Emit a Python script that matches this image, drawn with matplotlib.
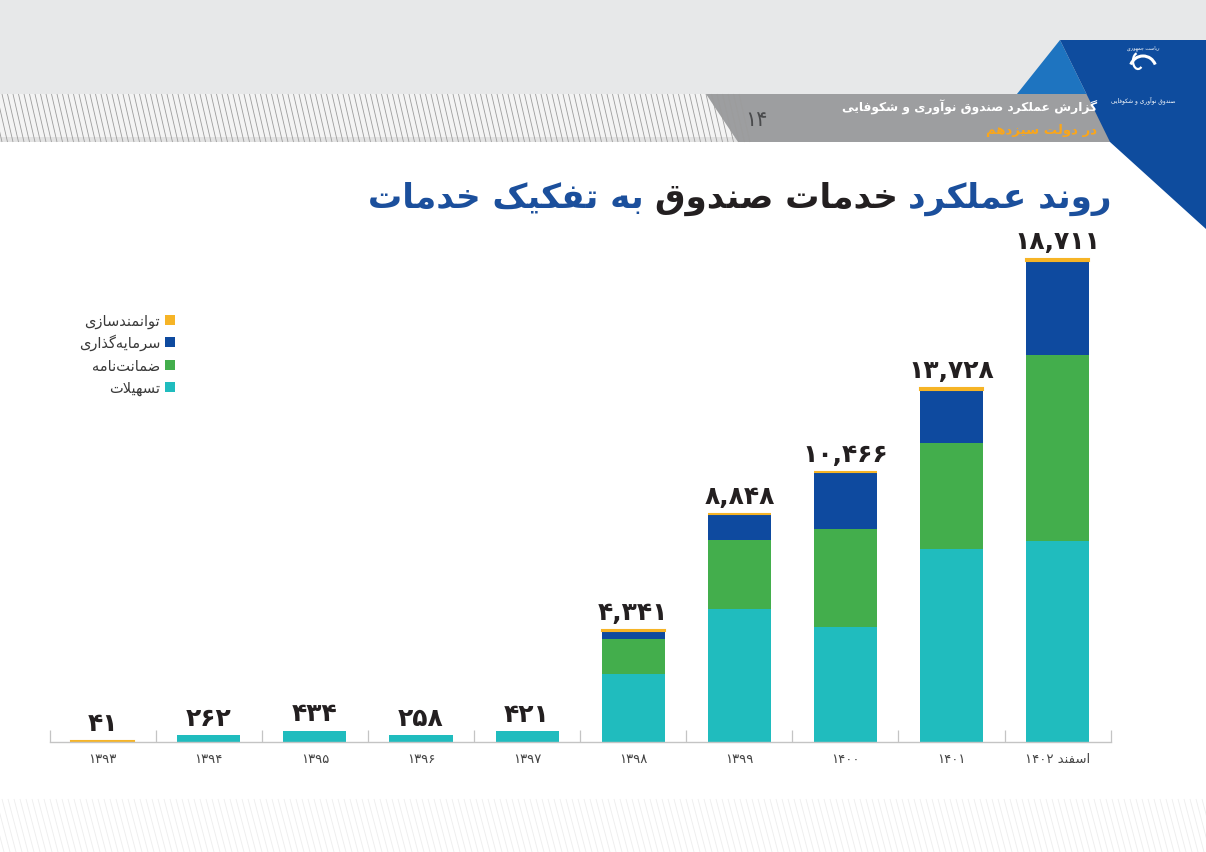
import re
import numpy as np
import matplotlib
matplotlib.use("Agg")
import matplotlib.pyplot as plt
from matplotlib.patches import Polygon, Rectangle, Arc
from matplotlib.collections import LineCollection
from matplotlib import font_manager
from matplotlib.ft2font import FT2Font

# ---------------- data ----------------
categories = ["۱۳۹۳", "۱۳۹۴", "۱۳۹۵", "۱۳۹۶", "۱۳۹۷",
              "۱۳۹۸", "۱۳۹۹", "۱۴۰۰", "۱۴۰۱", "اسفند ۱۴۰۲"]
tashilat   = [0, 262, 434, 258, 421, 2628, 5158, 4463, 7496, 7790]   # تسهیلات
zemanat    = [0, 0, 0, 0, 0, 1347, 2660, 3798, 4106, 7200]           # ضمانت‌نامه
sarmaye    = [0, 0, 0, 0, 0, 340, 1000, 2180, 2050, 3640]            # سرمایه‌گذاری
tavanmand  = [41, 0, 0, 0, 0, 26, 30, 25, 76, 81]                    # توانمندسازی
series_names = ["تسهیلات", "ضمانت‌نامه", "سرمایه‌گذاری", "توانمندسازی"]
series_colors = ["#20BCBE", "#43AE4C", "#0E4A9F", "#F6B426"]
title_parts = [("روند عملکرد", "#1B4F9C"), ("خدمات صندوق", "#231F20"),
               ("به تفکیک خدمات", "#1B4F9C")]
header_title = "گزارش عملکرد صندوق نوآوری و شکوفایی"
header_sub = "در دولت سیزدهم"
page_no = "۱۴"

# ---------------- minimal Persian shaping ----------------
FORMS = {
    'ا': (0xFE8D, 0xFE8E, None, None), 'آ': (0xFE81, 0xFE82, None, None),
    'ب': (0xFE8F, 0xFE90, 0xFE91, 0xFE92), 'پ': (0xFB56, 0xFB57, 0xFB58, 0xFB59),
    'ت': (0xFE95, 0xFE96, 0xFE97, 0xFE98), 'ث': (0xFE99, 0xFE9A, 0xFE9B, 0xFE9C),
    'ج': (0xFE9D, 0xFE9E, 0xFE9F, 0xFEA0), 'چ': (0xFB7A, 0xFB7B, 0xFB7C, 0xFB7D),
    'ح': (0xFEA1, 0xFEA2, 0xFEA3, 0xFEA4), 'خ': (0xFEA5, 0xFEA6, 0xFEA7, 0xFEA8),
    'د': (0xFEA9, 0xFEAA, None, None), 'ذ': (0xFEAB, 0xFEAC, None, None),
    'ر': (0xFEAD, 0xFEAE, None, None), 'ز': (0xFEAF, 0xFEB0, None, None),
    'ژ': (0xFB8A, 0xFB8B, None, None),
    'س': (0xFEB1, 0xFEB2, 0xFEB3, 0xFEB4), 'ش': (0xFEB5, 0xFEB6, 0xFEB7, 0xFEB8),
    'ص': (0xFEB9, 0xFEBA, 0xFEBB, 0xFEBC), 'ض': (0xFEBD, 0xFEBE, 0xFEBF, 0xFEC0),
    'ط': (0xFEC1, 0xFEC2, 0xFEC3, 0xFEC4), 'ظ': (0xFEC5, 0xFEC6, 0xFEC7, 0xFEC8),
    'ع': (0xFEC9, 0xFECA, 0xFECB, 0xFECC), 'غ': (0xFECD, 0xFECE, 0xFECF, 0xFED0),
    'ف': (0xFED1, 0xFED2, 0xFED3, 0xFED4), 'ق': (0xFED5, 0xFED6, 0xFED7, 0xFED8),
    'ک': (0xFB8E, 0xFB8F, 0xFB90, 0xFB91), 'گ': (0xFB92, 0xFB93, 0xFB94, 0xFB95),
    'ل': (0xFEDD, 0xFEDE, 0xFEDF, 0xFEE0), 'م': (0xFEE1, 0xFEE2, 0xFEE3, 0xFEE4),
    'ن': (0xFEE5, 0xFEE6, 0xFEE7, 0xFEE8), 'ه': (0xFEE9, 0xFEEA, 0xFEEB, 0xFEEC),
    'و': (0xFEED, 0xFEEE, None, None), 'ی': (0xFBFC, 0xFBFD, 0xFBFE, 0xFBFF),
}
FALLBACK = {
    'ک': (0xFED9, 0xFEDA, 0xFEDB, 0xFEDC), 'گ': (0xFED9, 0xFEDA, 0xFEDB, 0xFEDC),
    'ی': (0xFEEF, 0xFEF0, 0xFEF3, 0xFEF4), 'پ': (0xFE8F, 0xFE90, 0xFE91, 0xFE92),
    'ژ': (0xFEAF, 0xFEB0, None, None),
}
DUAL = {k for k, v in FORMS.items() if v[2] is not None}
RIGHT = {k for k, v in FORMS.items() if v[2] is None}

try:
    _path = font_manager.findfont(font_manager.FontProperties(family="DejaVu Sans", weight="bold"))
    _ft = FT2Font(_path)
    for k, alt in FALLBACK.items():
        if any(cp is not None and _ft.get_char_index(cp) == 0 for cp in FORMS[k]):
            FORMS[k] = alt
except Exception:
    pass


def shape(s):
    out = []
    n = len(s)
    i = 0
    while i < n:
        c = s[i]
        if c not in FORMS:
            if c != '\u200c':
                out.append(c)
            i += 1
            continue
        prev = s[i - 1] if i > 0 else None
        jp = prev in DUAL
        if c == 'ل' and i + 1 < n and s[i + 1] in ('ا', 'آ'):
            if s[i + 1] == 'ا':
                out.append(chr(0xFEFC if jp else 0xFEFB))
            else:
                out.append(chr(0xFEF6 if jp else 0xFEF5))
            i += 2
            continue
        nxt = s[i + 1] if i + 1 < n else None
        jn = c in DUAL and (nxt in DUAL or nxt in RIGHT)
        iso, fin, ini, med = FORMS[c]
        if jp and jn:
            g = med
        elif jp:
            g = fin
        elif jn:
            g = ini
        else:
            g = iso
        out.append(chr(g))
        i += 1
    return ''.join(out)


def fa(s):
    rev = shape(s)[::-1]
    return re.sub(r'[0-9۰-۹,٬.]+', lambda m: m.group(0)[::-1], rev)


def fa_num(v):
    return format(int(v), ",").translate(str.maketrans("0123456789", "۰۱۲۳۴۵۶۷۸۹"))


plt.rcParams['font.family'] = ['DejaVu Sans']

W, H = 1206, 853
fig = plt.figure(figsize=(W / 100, H / 100), dpi=100)
fig.patch.set_facecolor("white")

# ---------------- background / decoration (pixel coords) ----------------
bg = fig.add_axes([0, 0, 1, 1], zorder=-5)
bg.set_xlim(0, W)
bg.set_ylim(H, 0)
bg.axis("off")
bg.add_patch(Rectangle((0, 0), W, 143, facecolor="#E7E8E9", edgecolor="none"))
bg.add_patch(Rectangle((0, 95), 740, 48, facecolor="#F4F4F4", edgecolor="none"))
xs = np.arange(-20, 740, 5.5)
segs = [[(x, 95), (x + 11, 143)] for x in xs]
bg.add_collection(LineCollection(segs, colors="#9C9C9C", linewidths=0.6))
bg.add_patch(Rectangle((0, 138), 740, 5, facecolor="#D8D8D8", edgecolor="none", alpha=0.6))
# bottom faint pattern
xs2 = np.arange(-40, W + 20, 6)
segs2 = [[(x, 800), (x + 14, 853)] for x in xs2]
bg.add_collection(LineCollection(segs2, colors="#EDEDED", linewidths=0.6))
# light blue triangle
bg.add_patch(Polygon([(1060, 41), (1005, 110), (1110, 143)], closed=True,
                     facecolor="#1E74C0", edgecolor="none"))
# gray band
bg.add_patch(Polygon([(706, 95), (1090, 95), (1112, 143), (738, 143)], closed=True,
                     facecolor="#9D9EA0", edgecolor="none"))
# dark blue shape
bg.add_patch(Polygon([(1060, 41), (1206, 41), (1206, 230), (1110, 143)], closed=True,
                     facecolor="#0E4C9E", edgecolor="none"))
# logo approximation
bg.add_patch(Arc((1143, 70), 26, 26, theta1=200, theta2=340, color="white", lw=2.2))
bg.add_patch(Arc((1138, 62), 10, 16, theta1=60, theta2=260, color="white", lw=1.6))
bg.text(1143, 100, fa("صندوق نوآوری و شکوفایی"), color="white", fontsize=4.2,
        ha="center", va="center")
bg.text(1143, 48, fa("ریاست جمهوری"), color="white", fontsize=3.5, ha="center", va="center")

# header texts
bg.text(1097, 107, fa(header_title), color="white", fontsize=8.8, fontweight="bold",
        ha="right", va="center")
bg.text(1097, 130, fa(header_sub), color="#FAA61A", fontsize=9.5, fontweight="bold",
        ha="right", va="center")
bg.text(756, 120, page_no, color="#4A4B4D", fontsize=15, ha="center", va="center")

# ---------------- title (right-to-left pieces) ----------------
fig.canvas.draw()
renderer = fig.canvas.get_renderer()


def draw_title(fs, gap):
    objs = []
    x_right = 1112
    for part, col in title_parts:
        t = bg.text(x_right, 208, fa(part), color=col, fontsize=fs, fontweight="bold",
                    ha="right", va="baseline")
        bb = t.get_window_extent(renderer)
        x_right -= bb.width + gap
        objs.append(t)
    return objs, 1112 - (x_right + gap)


fs0 = 29
objs, total_w = draw_title(fs0, 12)
for o in objs:
    o.remove()
fs1 = fs0 * 744 / total_w
objs, total_w = draw_title(fs1, 11)

# ---------------- main chart ----------------
left = 49.6 / W
right = 1110.7 / W
bottom = (H - 743) / H
top = (H - 200) / H
ax = fig.add_axes([left, bottom, right - left, top - bottom])
ax.patch.set_alpha(0)
x = np.arange(len(categories))
bw = 0.595
series = [tashilat, zemanat, sarmaye, tavanmand]
base = np.zeros(len(categories))
for k, (vals, col) in enumerate(zip(series, series_colors)):
    vals = np.array(vals, dtype=float)
    lw = np.where(vals > 0, 1.5, 0.0) if k == 3 else 0
    ax.bar(x, vals, width=bw, bottom=base, color=col, edgecolor=col, linewidth=lw, zorder=2)
    base = base + vals
totals = base
ax.set_xlim(-0.5, len(categories) - 0.5)
ax.set_ylim(0, 18711 * 543 / 483)

for xi, tv in zip(x, totals):
    ax.annotate(fa_num(tv), (xi, tv), xytext=(0, 4), textcoords="offset points",
                ha="center", va="bottom", fontsize=18, fontweight="bold", color="#231F20")

for s in ["top", "right", "left"]:
    ax.spines[s].set_visible(False)
ax.spines["bottom"].set_color("#C4C4C4")
ax.spines["bottom"].set_linewidth(1.0)
ax.set_yticks([])
ax.set_xticks(x)
ax.set_xticklabels([fa(c) for c in categories], fontsize=9.5, color="#444444")
ax.tick_params(axis="x", which="major", length=0, pad=7)
ax.set_xticks(np.arange(-0.5, len(categories), 1), minor=True)
ax.tick_params(axis="x", which="minor", length=9, direction="in", color="#C4C4C4", width=0.9)

# ---------------- legend (manual, right-aligned text) ----------------
leg_rows = [321, 343, 366, 388]
for yy, name, col in zip(leg_rows, series_names[::-1], series_colors[::-1]):
    bg.add_patch(Rectangle((165, yy - 5), 10, 10, facecolor=col, edgecolor="none"))
    bg.text(160, yy, fa(name), fontsize=10.5, color="#3A3A3A", ha="right", va="center")

fig.savefig("out.png", dpi=100, facecolor=fig.get_facecolor())
